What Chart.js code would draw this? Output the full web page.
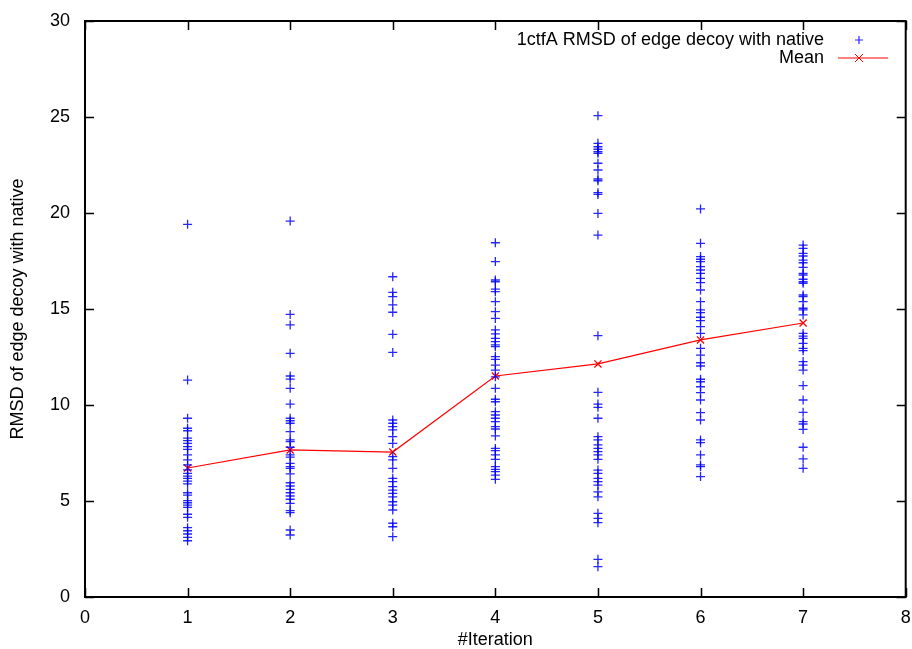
<!DOCTYPE html>
<html>
<head>
<meta charset="utf-8">
<script src="https://cdn.jsdelivr.net/npm/chart.js@4"></script>
<style>
  html, body { margin: 0; padding: 0; background: #fff; }
  #wrap { width: 912px; height: 649px; }
</style>
</head>
<body>
<div id="wrap"><canvas id="grafico"></canvas></div>
<script>
// RMSD of each edge decoy with native, per iteration
const iterations = [1, 2, 3, 4, 5, 6, 7];
const rmsdIter1 = [19.41, 11.30, 9.31, 8.79, 8.66, 8.27, 8.14, 8.00, 7.83, 7.69, 7.40, 7.14, 6.88, 6.62, 6.44, 6.30, 6.18, 6.04, 5.89, 5.43, 5.31, 5.02, 4.91, 4.79, 4.67, 4.31, 4.15, 3.61, 3.45, 3.28, 3.11, 2.93];
const rmsdIter2 = [19.58, 14.72, 14.17, 12.69, 11.51, 11.35, 10.87, 10.05, 9.31, 9.18, 9.05, 8.61, 8.18, 8.09, 7.80, 7.40, 7.28, 6.96, 6.79, 6.70, 6.41, 5.95, 5.78, 5.61, 5.43, 5.26, 5.09, 4.88, 4.50, 4.39, 3.49, 3.23];
const rmsdIter3 = [16.68, 15.87, 15.64, 15.21, 14.83, 13.68, 12.74, 9.22, 9.05, 8.87, 8.70, 8.35, 8.00, 7.31, 7.14, 6.70, 6.18, 6.01, 5.75, 5.57, 5.40, 5.22, 4.96, 4.79, 4.53, 3.84, 3.66, 3.14];
const rmsdIter4 = [18.45, 17.47, 16.51, 16.42, 16.03, 15.90, 15.38, 14.86, 14.51, 13.91, 13.70, 13.47, 13.30, 13.13, 13.04, 12.52, 12.38, 12.08, 11.82, 11.47, 10.87, 10.30, 10.17, 9.65, 9.48, 9.31, 9.13, 8.87, 8.75, 8.39, 7.74, 7.62, 7.40, 7.17, 6.79, 6.65, 6.53, 6.35, 6.13];
const rmsdIter5 = [25.07, 23.63, 23.45, 23.32, 23.19, 23.11, 22.59, 22.24, 21.77, 21.68, 21.06, 20.97, 19.98, 18.85, 13.61, 10.66, 10.05, 9.88, 9.31, 8.35, 8.18, 7.92, 7.74, 7.57, 7.40, 7.17, 6.61, 6.44, 6.18, 6.01, 5.83, 5.48, 5.22, 4.36, 4.10, 3.87, 1.96, 1.58];
const rmsdIter6 = [20.21, 18.42, 17.73, 17.59, 17.47, 17.21, 17.03, 16.86, 16.60, 16.37, 15.99, 15.38, 14.95, 14.81, 14.57, 14.39, 14.08, 13.73, 12.95, 12.60, 12.20, 12.03, 11.34, 11.21, 10.95, 10.64, 10.26, 9.60, 9.22, 8.18, 8.04, 7.40, 6.88, 6.79, 6.27];
const rmsdIter7 = [18.33, 18.16, 17.90, 17.76, 17.55, 17.41, 17.17, 16.86, 16.77, 16.55, 16.42, 16.34, 15.73, 15.64, 15.38, 15.04, 14.95, 14.69, 13.73, 13.59, 13.47, 13.21, 12.95, 12.83, 12.26, 12.08, 11.82, 11.01, 10.26, 9.62, 9.13, 9.01, 8.73, 7.80, 7.19, 6.70];
const meanRmsd = [6.72, 7.66, 7.55, 11.51, 12.14, 13.39, 14.27];

const xTicks = [0, 1, 2, 3, 4, 5, 6, 7, 8];
const yTicks = [0, 5, 10, 15, 20, 25, 30];

const serieLabel = '1ctfA RMSD of edge decoy with native';
const meanLabel = 'Mean';

const FONT = '"Liberation Sans", Arial, Helvetica, sans-serif';
const BLUE = 'rgba(0, 0, 255, 0.85)';
const RED = 'rgb(255, 0, 0)';

const porIteracion = [rmsdIter1, rmsdIter2, rmsdIter3, rmsdIter4, rmsdIter5, rmsdIter6, rmsdIter7];
const puntos = [];
porIteracion.forEach((vals, i) => {
    vals.forEach(v => puntos.push({ x: iterations[i], y: v }));
});
const medias = iterations.map((it, i) => ({ x: it, y: meanRmsd[i] }));

// frame + inward ticks on all four sides, gnuplot style
const marcoPlugin = {
    id: 'marco',
    afterDatasetsDraw(chart) {
        const { ctx, chartArea: a, scales } = chart;
        const t = 9;
        ctx.save();
        ctx.strokeStyle = '#000';
        ctx.lineWidth = 1.5;
        ctx.beginPath();
        xTicks.forEach(v => {
            const px = Math.round(scales.x.getPixelForValue(v)) + 0.5;
            ctx.moveTo(px, a.bottom); ctx.lineTo(px, a.bottom - t);
            ctx.moveTo(px, a.top); ctx.lineTo(px, a.top + t);
        });
        yTicks.forEach(v => {
            const py = Math.round(scales.y.getPixelForValue(v)) + 0.5;
            ctx.moveTo(a.left, py); ctx.lineTo(a.left + t, py);
            ctx.moveTo(a.right, py); ctx.lineTo(a.right - t, py);
        });
        ctx.stroke();
        ctx.lineWidth = 2;
        ctx.strokeRect(a.left, a.top, a.right - a.left, a.bottom - a.top);
        ctx.restore();
    }
};

// key in the top right corner: text right-aligned, sample to its right
const leyendaPlugin = {
    id: 'leyenda',
    afterDraw(chart) {
        const { ctx } = chart;
        const textRight = 824;
        const sampleL = 838, sampleR = 888, sampleC = 859;
        const y1 = 40, y2 = 58;
        ctx.save();
        ctx.font = '18px ' + FONT;
        ctx.fillStyle = '#000';
        ctx.textAlign = 'right';
        ctx.textBaseline = 'middle';
        ctx.fillText(serieLabel, textRight, y1);
        ctx.fillText(meanLabel, textRight, y2);

        ctx.strokeStyle = BLUE;
        ctx.lineWidth = 1.2;
        ctx.beginPath();
        ctx.moveTo(sampleC - 4, y1); ctx.lineTo(sampleC + 4, y1);
        ctx.moveTo(sampleC, y1 - 4); ctx.lineTo(sampleC, y1 + 4);
        ctx.stroke();

        ctx.strokeStyle = RED;
        ctx.lineWidth = 1;
        ctx.beginPath();
        ctx.moveTo(sampleL, y2); ctx.lineTo(sampleR, y2);
        ctx.moveTo(sampleC - 4, y2 - 4); ctx.lineTo(sampleC + 4, y2 + 4);
        ctx.moveTo(sampleC - 4, y2 + 4); ctx.lineTo(sampleC + 4, y2 - 4);
        ctx.stroke();
        ctx.restore();
    }
};

const ctx = document.getElementById('grafico').getContext('2d');
const chart = new Chart(ctx, {
    type: 'scatter',
    data: {
        datasets: [
            {
                label: serieLabel,
                data: puntos,
                pointStyle: 'cross',
                pointRadius: 4.5,
                pointBorderWidth: 1.3,
                borderColor: BLUE,
                backgroundColor: BLUE,
                showLine: false
            },
            {
                label: meanLabel,
                data: medias,
                type: 'line',
                showLine: true,
                fill: false,
                borderColor: RED,
                borderWidth: 1.2,
                pointStyle: 'crossRot',
                pointRadius: 5,
                pointBorderWidth: 1.3,
                pointBorderColor: RED,
                backgroundColor: RED,
                tension: 0
            }
        ]
    },
    options: {
        responsive: true,
        maintainAspectRatio: false,
        animation: false,
        layout: { padding: { top: 21, right: 0, bottom: 0, left: 0 } },
        plugins: {
            legend: { display: false },
            tooltip: { enabled: false }
        },
        scales: {
            x: {
                type: 'linear',
                min: 0,
                max: 8,
                afterBuildTicks: s => { s.ticks = xTicks.map(v => ({ value: v })); },
                afterFit: s => { s.height = 52; s.paddingLeft = 0; s.paddingRight = 3; },
                grid: { display: false, drawTicks: false },
                border: { display: false },
                ticks: {
                    color: '#000',
                    padding: 10,
                    font: { family: FONT, size: 18 }
                },
                title: {
                    display: true,
                    text: '#Iteration',
                    color: '#000',
                    padding: { top: 0, bottom: -2 },
                    font: { family: FONT, size: 18 }
                }
            },
            y: {
                type: 'linear',
                min: 0,
                max: 30,
                afterBuildTicks: s => { s.ticks = yTicks.map(v => ({ value: v })); },
                afterFit: s => { s.width = 85; s.paddingTop = 0; s.paddingBottom = 0; },
                grid: { display: false, drawTicks: false },
                border: { display: false },
                ticks: {
                    color: '#000',
                    padding: 15,
                    font: { family: FONT, size: 18 }
                },
                title: {
                    display: true,
                    text: 'RMSD of edge decoy with native',
                    color: '#000',
                    padding: { top: 7, bottom: 0 },
                    font: { family: FONT, size: 18 }
                }
            }
        }
    },
    plugins: [marcoPlugin, leyendaPlugin]
});
</script>
</body>
</html>
